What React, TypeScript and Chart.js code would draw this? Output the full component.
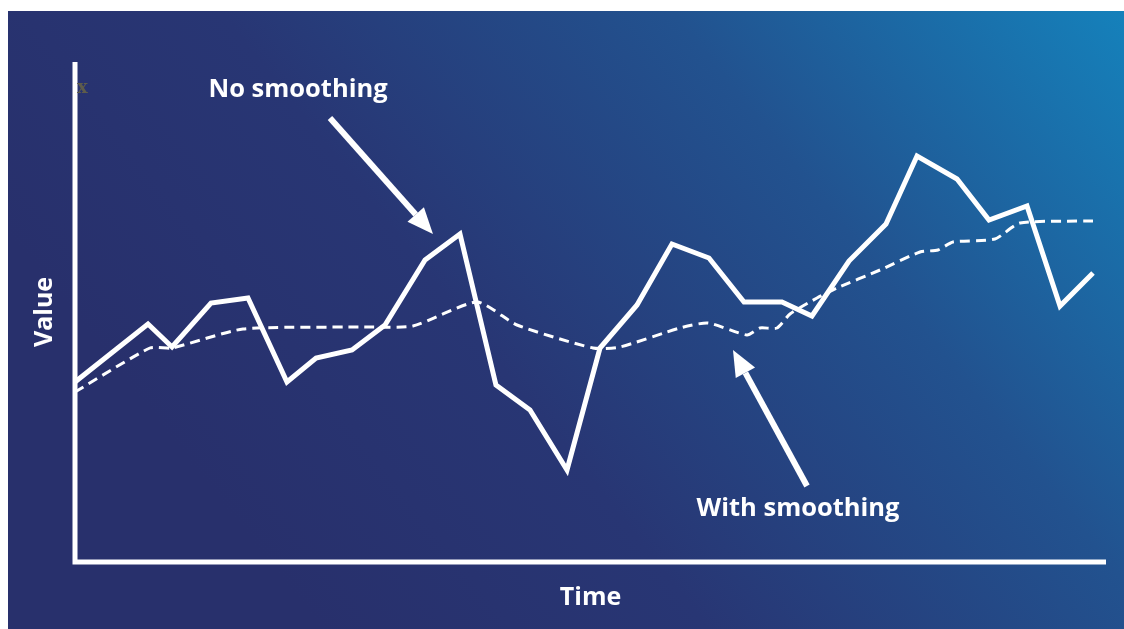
import React, { useEffect, useRef } from "react";
import { Chart, registerables } from "chart.js";

Chart.register(...registerables);

// Raw (no smoothing) series
const rawTime = [0, 7.08, 9.41, 13.19, 16.78, 20.56, 23.38, 26.87, 30.07, 33.95, 37.34, 40.83, 44.13, 47.72, 50.92, 54.51, 57.9, 61.49, 64.89, 68.57, 71.48, 75.07, 78.66, 81.67, 85.55, 88.65, 92.34, 95.54, 98.74];
const rawValue = [36.0, 47.6, 43.0, 51.8, 52.8, 36.0, 40.8, 42.4, 47.4, 60.4, 65.6, 35.4, 30.4, 18.4, 42.8, 51.4, 63.6, 60.8, 52.0, 52.0, 49.2, 60.2, 67.6, 81.2, 76.6, 68.4, 71.2, 51.2, 57.8];

// Smoothed series
const smoothTime = [0, 7.27, 9.41, 16.29, 27.64, 32.78, 38.99, 42.87, 50.24, 52.86, 58.68, 61.4, 65.18, 66.44, 68.09, 69.35, 71.97, 73.91, 78.08, 81.96, 83.7, 85.16, 89.23, 91.66, 98.74];
const smoothValue = [34.0, 42.8, 42.8, 46.6, 47.0, 47.2, 52.0, 47.4, 42.8, 43.0, 46.8, 47.8, 45.4, 46.8, 46.8, 49.6, 52.8, 54.8, 58.4, 62.0, 62.4, 64.0, 64.6, 67.8, 68.2];

// Annotations (data coordinates)
const labelTexts = ["No smoothing", "With smoothing"];
const labelTime = [21.63, 70.13];
const labelValue = [94.4, 10.6];
const arrowFromTime = [24.73, 71.0];
const arrowFromValue = [88.8, 15.2];
const arrowToTime = [34.72, 63.82];
const arrowToValue = [65.6, 42.4];

const xTitle = "Time";
const yTitle = "Value";

const FONT = "'Open Sans', 'Noto Sans', sans-serif";

const decorPlugin = {
  id: "decor",
  beforeDraw(chart: any) {
    const { ctx, width, height } = chart;
    ctx.save();
    ctx.fillStyle = "#ffffff";
    ctx.fillRect(0, 0, width, height);
    const g = ctx.createLinearGradient(330, 640, 1124, 11);
    g.addColorStop(0, "#28306c");
    g.addColorStop(0.3, "#283674");
    g.addColorStop(0.65, "#22528f");
    g.addColorStop(1, "#1581bb");
    ctx.fillStyle = g;
    ctx.fillRect(8, 11, width - 8, height - 11);
    ctx.restore();
  },
  beforeDatasetsDraw(chart: any) {
    const { ctx, chartArea } = chart;
    const { left, right, top, bottom } = chartArea;
    ctx.save();
    ctx.strokeStyle = "#ffffff";
    ctx.lineWidth = 5;
    ctx.lineCap = "butt";
    ctx.beginPath();
    ctx.moveTo(left, top);
    ctx.lineTo(left, bottom + 2.5);
    ctx.moveTo(left - 2.5, bottom);
    ctx.lineTo(right, bottom);
    ctx.stroke();

    // small grey marker near the top of the y axis
    ctx.fillStyle = "#5e5c4b";
    ctx.font = "bold 18px 'DejaVu Serif', serif";
    ctx.textAlign = "left";
    ctx.textBaseline = "middle";
    ctx.fillText("x", left + 2, top + 26);

    ctx.fillStyle = "#ffffff";
    ctx.font = `bold 25px ${FONT}`;
    ctx.textAlign = "center";
    ctx.textBaseline = "middle";
    ctx.fillText(xTitle, (left + right) / 2, bottom + 36);
    ctx.save();
    ctx.translate(left - 30, (top + bottom) / 2);
    ctx.rotate(-Math.PI / 2);
    ctx.fillText(yTitle, 0, 0);
    ctx.restore();
    ctx.restore();
  },
  afterDatasetsDraw(chart: any) {
    const { ctx, scales } = chart;
    const xs = scales.x;
    const ys = scales.y;
    ctx.save();
    ctx.fillStyle = "#ffffff";
    ctx.strokeStyle = "#ffffff";
    ctx.font = `bold 25.5px ${FONT}`;
    ctx.textAlign = "center";
    ctx.textBaseline = "middle";
    for (let i = 0; i < labelTexts.length; i++) {
      ctx.fillText(labelTexts[i], xs.getPixelForValue(labelTime[i]), ys.getPixelForValue(labelValue[i]));
      const x1 = xs.getPixelForValue(arrowFromTime[i]);
      const y1 = ys.getPixelForValue(arrowFromValue[i]);
      const x2 = xs.getPixelForValue(arrowToTime[i]);
      const y2 = ys.getPixelForValue(arrowToValue[i]);
      const ang = Math.atan2(y2 - y1, x2 - x1);
      const headLen = 26;
      const headW = 11;
      const bx = x2 - Math.cos(ang) * headLen;
      const by = y2 - Math.sin(ang) * headLen;
      ctx.lineWidth = 6;
      ctx.lineCap = "butt";
      ctx.beginPath();
      ctx.moveTo(x1, y1);
      ctx.lineTo(bx, by);
      ctx.stroke();
      ctx.beginPath();
      ctx.moveTo(x2, y2);
      ctx.lineTo(bx + Math.sin(ang) * headW, by - Math.cos(ang) * headW);
      ctx.lineTo(bx - Math.sin(ang) * headW, by + Math.cos(ang) * headW);
      ctx.closePath();
      ctx.fill();
    }
    ctx.restore();
  },
};

export default function App() {
  const ref = useRef<HTMLCanvasElement | null>(null);
  useEffect(() => {
    if (!ref.current) return;
    const chart = new Chart(ref.current, {
      type: "line",
      data: {
        datasets: [
          {
            label: "No smoothing",
            data: rawTime.map((t, i) => ({ x: t, y: rawValue[i] })),
            borderColor: "#ffffff",
            borderWidth: 5,
            borderJoinStyle: "miter",
            pointRadius: 0,
            tension: 0,
            fill: false,
          },
          {
            label: "With smoothing",
            data: smoothTime.map((t, i) => ({ x: t, y: smoothValue[i] })),
            borderColor: "#ffffff",
            borderWidth: 3,
            borderDash: [10, 6],
            pointRadius: 0,
            tension: 0.2,
            fill: false,
          },
        ],
      },
      options: {
        responsive: false,
        animation: false,
        devicePixelRatio: 1,
        layout: { padding: { left: 75, right: 18, top: 62, bottom: 67 } },
        plugins: { legend: { display: false }, tooltip: { enabled: false } },
        scales: {
          x: { type: "linear", min: 0, max: 100, display: false },
          y: { type: "linear", min: 0, max: 100, display: false },
        },
      },
      plugins: [decorPlugin],
    } as any);
    return () => chart.destroy();
  }, []);
  return (
    <div style={{ position: "fixed", left: 0, top: 0, width: 1124, height: 629 }}>
      <canvas ref={ref} width={1124} height={629} style={{ display: "block" }} />
    </div>
  );
}
